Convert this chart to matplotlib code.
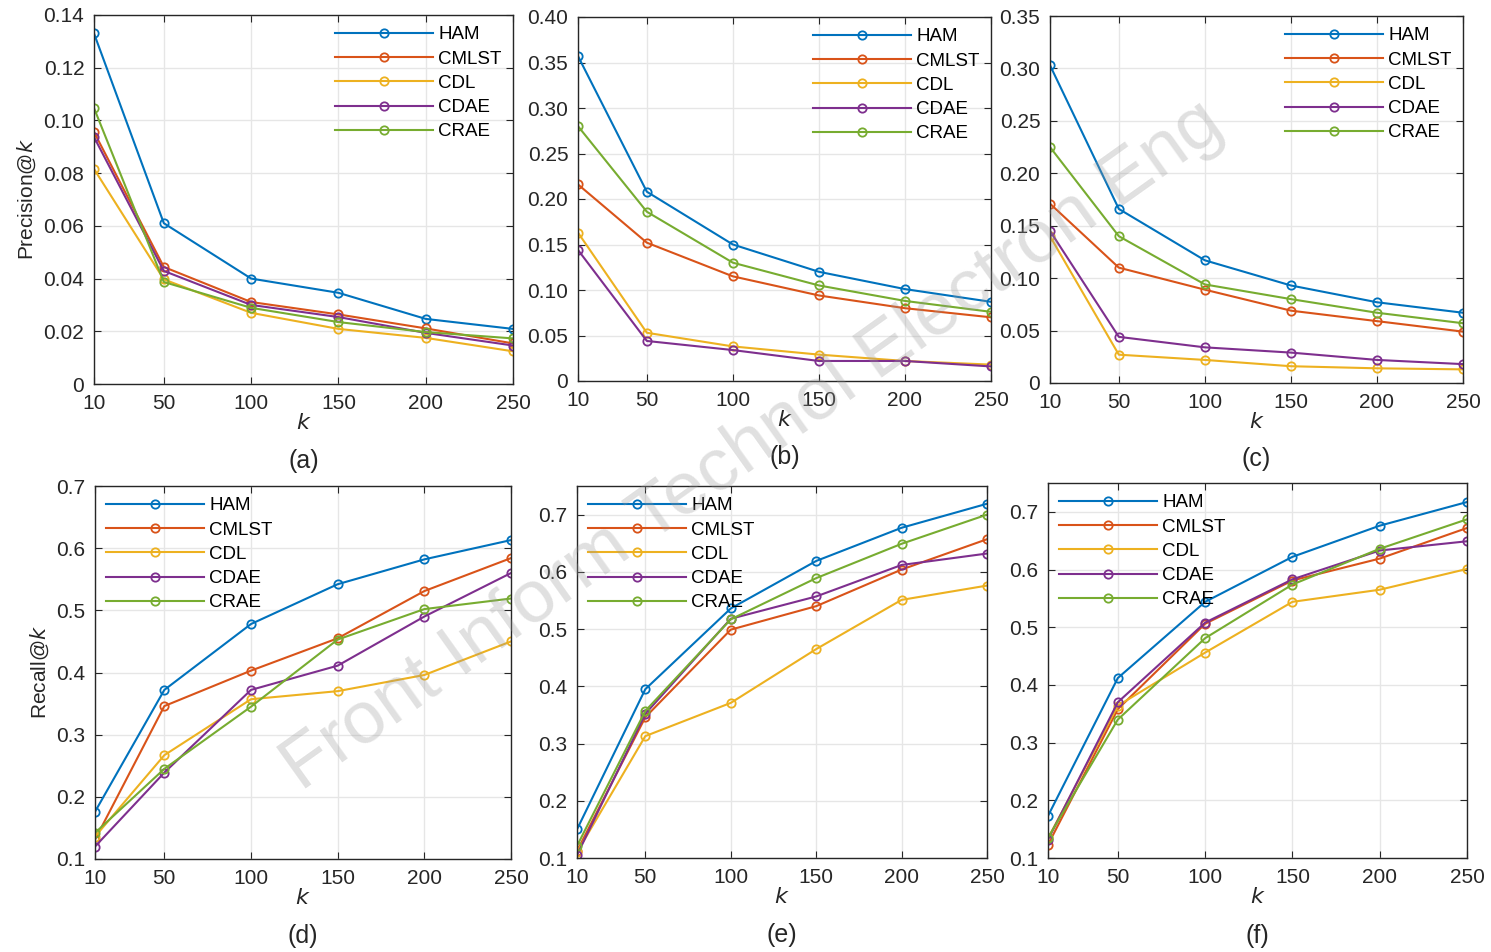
import matplotlib
matplotlib.use("Agg")
import matplotlib.pyplot as plt

plt.rcParams['font.family'] = ['Liberation Sans', 'DejaVu Sans']

# данные
k = [10, 50, 100, 150, 200, 250]
methods = ['HAM', 'CMLST', 'CDL', 'CDAE', 'CRAE']
colors = ['#0072BD', '#D95319', '#EDB120', '#7E2F8E', '#77AC30']

prec_a = {
    'HAM':   [0.133, 0.061, 0.040, 0.0346, 0.0247, 0.0209],
    'CMLST': [0.0956, 0.0444, 0.0311, 0.0264, 0.0211, 0.0154],
    'CDL':   [0.0816, 0.0397, 0.0270, 0.0209, 0.0175, 0.0124],
    'CDAE':  [0.0937, 0.0429, 0.0300, 0.0254, 0.0194, 0.0146],
    'CRAE':  [0.1047, 0.0387, 0.0289, 0.0235, 0.0197, 0.0173],
}
prec_b = {
    'HAM':   [0.357, 0.208, 0.150, 0.120, 0.101, 0.087],
    'CMLST': [0.216, 0.152, 0.115, 0.094, 0.080, 0.070],
    'CDL':   [0.163, 0.053, 0.038, 0.029, 0.022, 0.018],
    'CDAE':  [0.144, 0.044, 0.034, 0.022, 0.022, 0.016],
    'CRAE':  [0.280, 0.186, 0.130, 0.105, 0.088, 0.076],
}
prec_c = {
    'HAM':   [0.303, 0.166, 0.117, 0.093, 0.077, 0.067],
    'CMLST': [0.171, 0.110, 0.089, 0.069, 0.059, 0.049],
    'CDL':   [0.140, 0.027, 0.022, 0.016, 0.014, 0.013],
    'CDAE':  [0.145, 0.044, 0.034, 0.029, 0.022, 0.018],
    'CRAE':  [0.225, 0.140, 0.094, 0.080, 0.067, 0.057],
}
rec_d = {
    'HAM':   [0.176, 0.372, 0.478, 0.542, 0.582, 0.613],
    'CMLST': [0.131, 0.346, 0.403, 0.455, 0.531, 0.584],
    'CDL':   [0.136, 0.267, 0.357, 0.370, 0.396, 0.450],
    'CDAE':  [0.120, 0.239, 0.372, 0.411, 0.490, 0.560],
    'CRAE':  [0.142, 0.245, 0.345, 0.453, 0.502, 0.519],
}
rec_e = {
    'HAM':   [0.150, 0.395, 0.536, 0.619, 0.677, 0.719],
    'CMLST': [0.112, 0.346, 0.499, 0.540, 0.604, 0.657],
    'CDL':   [0.110, 0.313, 0.371, 0.465, 0.551, 0.576],
    'CDAE':  [0.105, 0.352, 0.518, 0.557, 0.612, 0.632],
    'CRAE':  [0.121, 0.357, 0.517, 0.589, 0.649, 0.700],
}
rec_f = {
    'HAM':   [0.173, 0.412, 0.544, 0.622, 0.676, 0.717],
    'CMLST': [0.123, 0.358, 0.506, 0.581, 0.619, 0.672],
    'CDL':   [0.134, 0.364, 0.456, 0.544, 0.565, 0.601],
    'CDAE':  [0.132, 0.370, 0.508, 0.583, 0.633, 0.649],
    'CRAE':  [0.135, 0.340, 0.481, 0.574, 0.636, 0.687],
}

panels = [
    # (данные, пиксели осей x0, y0, x1, y1, ylim, yticks, формат, подпись)
    (prec_a, (94, 15, 513, 384), (0, 0.14), [0, 0.02, 0.04, 0.06, 0.08, 0.10, 0.12, 0.14], '%.2f', '(a)', 'upper right'),
    (prec_b, (578, 17, 991, 381), (0, 0.40), [0, 0.05, 0.10, 0.15, 0.20, 0.25, 0.30, 0.35, 0.40], '%.2f', '(b)', 'upper right'),
    (prec_c, (1050, 16, 1463, 383), (0, 0.35), [0, 0.05, 0.10, 0.15, 0.20, 0.25, 0.30, 0.35], '%.2f', '(c)', 'upper right'),
    (rec_d, (95, 486, 511, 859), (0.1, 0.7), [0.1, 0.2, 0.3, 0.4, 0.5, 0.6, 0.7], '%.1f', '(d)', 'upper left'),
    (rec_e, (577, 486, 987, 858), (0.1, 0.75), [0.1, 0.2, 0.3, 0.4, 0.5, 0.6, 0.7], '%.1f', '(e)', 'upper left'),
    (rec_f, (1048, 483, 1467, 858), (0.1, 0.75), [0.1, 0.2, 0.3, 0.4, 0.5, 0.6, 0.7], '%.1f', '(f)', 'upper left'),
]

W, H = 1491, 952
fig = plt.figure(figsize=(W / 100, H / 100), dpi=100)

for i, (data, box, ylim, yticks, fmt, tag, loc) in enumerate(panels):
    x0, y0, x1, y1 = box
    ax = fig.add_axes([x0 / W, 1 - y1 / H, (x1 - x0) / W, (y1 - y0) / H])
    for m, c in zip(methods, colors):
        ax.plot(k, data[m], color=c, marker='o', markersize=6, markerfacecolor='none',
                markeredgewidth=1.3, linewidth=1.5, label=m)
    ax.set_xlim(10, 250)
    ax.set_ylim(*ylim)
    ax.set_xticks(k)
    ax.set_yticks(yticks)
    ax.set_yticklabels(['0' if v == 0 else fmt % v for v in yticks])
    ax.grid(True, color='#e6e6e6', linewidth=1)
    ax.set_axisbelow(True)
    ax.tick_params(direction='in', top=True, right=True, labelsize=15,
                   colors='#262626', length=5, pad=7)
    for s in ax.spines.values():
        s.set_color('#262626')
        s.set_linewidth(1)
    ax.set_xlabel('$k$', fontsize=16, color='#262626', labelpad=0)
    if i == 0:
        ax.set_ylabel('Precision@$k$', fontsize=15, color='#262626', labelpad=4)
    if i == 3:
        ax.set_ylabel('Recall@$k$', fontsize=15, color='#262626', labelpad=4)
    ax.legend(loc=loc, frameon=False, fontsize=13.5, handlelength=5.2,
              handletextpad=0.3, labelspacing=0.38, borderaxespad=0.2, numpoints=1)
    ax.text(0.5, -0.175, tag, transform=ax.transAxes, ha='center', va='top',
            fontsize=18, color='#262626')

# водяной знак
fig.text(0.505, 0.532, 'Front Inform Technol Electron Eng', rotation=35.5,
         ha='center', va='center', fontsize=54, color='#999999', alpha=0.3, zorder=10)

fig.savefig('out.png', dpi=100)
